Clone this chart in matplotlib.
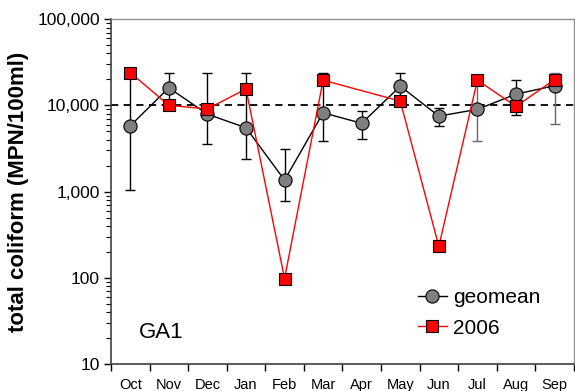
import matplotlib
matplotlib.use("Agg")
import matplotlib.pyplot as plt
import numpy as np
from matplotlib.ticker import FixedLocator, NullFormatter, LogLocator

plt.rcParams['font.family'] = ['Liberation Sans', 'DejaVu Sans']

months = ['Oct', 'Nov', 'Dec', 'Jan', 'Feb', 'Mar', 'Apr', 'May', 'Jun', 'Jul', 'Aug', 'Sep']
geomean = [5800, 16000, 7900, 5500, 1360, 8200, 6200, 16700, 7500, 9000, 13500, 16900]
geo_upper = [24000, 24000, 24000, 24000, 3100, 24000, 8700, 24000, 9200, 20000, 19900, 24000]
geo_lower = [1040, 9300, 3600, 2370, 770, 3900, 4070, 11000, 5760, 3830, 7660, 6070]
y2006 = [24000, 10000, 9100, 15500, 98, 19600, 11200, 232, 19600, 9730, 19900]
months_2006 = ['Oct', 'Nov', 'Dec', 'Jan', 'Feb', 'Mar', 'May', 'Jun', 'Jul', 'Aug', 'Sep']
err_colors = ['black', 'black', 'black', 'black', 'black', 'black', 'black', 'black', 'black', '#666666', 'black', '#666666']
ytick_vals = [10, 100, 1000, 10000, 100000]
ytick_labels = ['10', '100', '1,000', '10,000', '100,000']

fig = plt.figure(figsize=(5.75, 3.91), dpi=100)
ax = fig.add_axes([0.193, 0.069, 0.805, 0.882])

x = np.arange(len(months))
x2 = np.array([months.index(m) for m in months_2006])

ax.axhline(10000, color='black', lw=1.3, ls=(0, (4, 3)), zorder=1)

geo = np.array(geomean, dtype=float)
for i in range(len(months)):
    ax.errorbar([x[i]], [geo[i]], yerr=[[geo[i] - geo_lower[i]], [geo_upper[i] - geo[i]]],
                fmt='none', ecolor=err_colors[i], elinewidth=1.0, capsize=3.5, capthick=1.0, zorder=2)

ax.plot(x, geomean, color='black', lw=1.0, marker='o', ms=9.5, mfc='#808080', mec='black',
        mew=0.8, zorder=3, label='geomean')
ax.plot(x2, y2006, color='red', lw=1.0, marker='s', ms=8, mfc='red', mec='black',
        mew=0.8, zorder=4, label='2006')

ax.set_yscale('log')
ax.set_ylim(10, 100000)
ax.set_xlim(-0.5, 11.5)
ax.yaxis.set_major_locator(FixedLocator(ytick_vals))
ax.set_yticklabels(ytick_labels, fontsize=12.5)
ax.yaxis.set_minor_locator(LogLocator(base=10, subs=np.arange(2, 10)))
ax.yaxis.set_minor_formatter(NullFormatter())
ax.tick_params(axis='y', which='major', direction='out', length=5, width=1.0, pad=3)
ax.tick_params(axis='y', which='minor', direction='out', length=3.5, width=0.8)

ax.set_xticks(np.arange(-0.5, 12, 1.0))
ax.set_xticklabels([])
ax.set_xticks(x, minor=True)
ax.set_xticklabels(months, minor=True, fontsize=10.5)
ax.tick_params(axis='x', which='major', direction='out', length=5, width=1.0)
ax.tick_params(axis='x', which='minor', length=0, pad=10)

ax.set_ylabel('total coliform (MPN/100ml)', fontsize=16, fontweight='bold', labelpad=6)

for s in ['left', 'bottom']:
    ax.spines[s].set_color('#404040')
    ax.spines[s].set_linewidth(1.2)
for s in ['top', 'right']:
    ax.spines[s].set_color('#909090')
    ax.spines[s].set_linewidth(1.0)

ax.text(0.06, 0.09, 'GA1', transform=ax.transAxes, fontsize=16, va='center', ha='left')

ax.legend(loc='upper left', bbox_to_anchor=(0.64, 0.25), frameon=False, fontsize=15,
          handlelength=1.4, handletextpad=0.3, labelspacing=0.55, borderpad=0)

fig.savefig('out.png', dpi=100)
